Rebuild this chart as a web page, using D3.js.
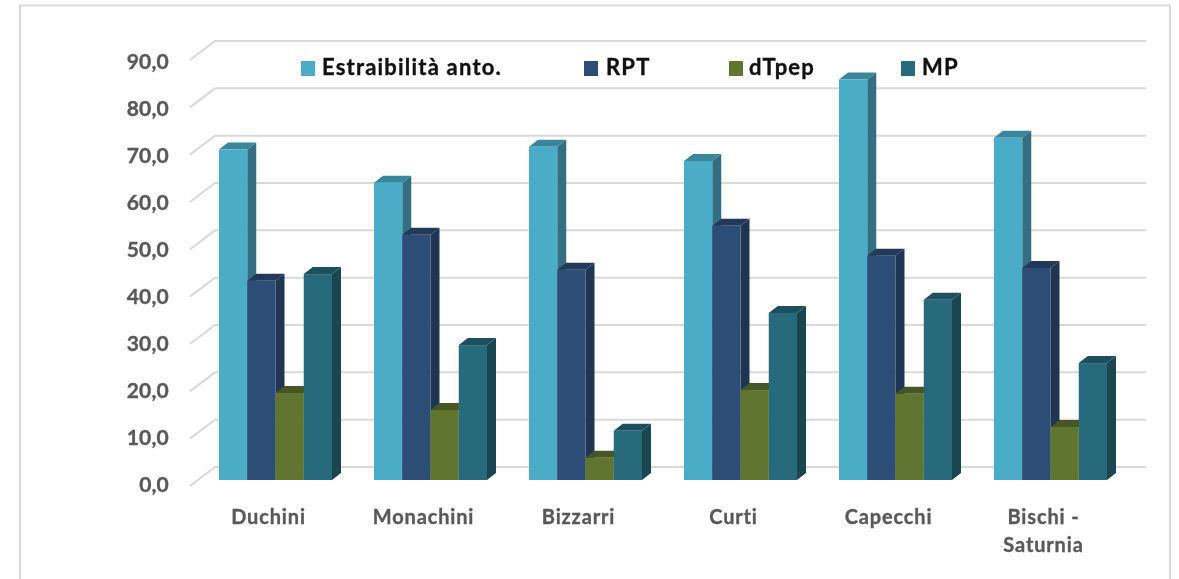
<!DOCTYPE html>
<html>
<head>
<meta charset="utf-8">
<script src="https://cdn.jsdelivr.net/npm/d3@7"></script>
<style>
    html, body { margin: 0; padding: 0; background: #fff; overflow: hidden; }
    svg { filter: blur(0.35px); }
    text { font-family: Lato, "Open Sans", sans-serif; font-weight: 700; stroke: currentColor; stroke-width: 0.35px; }
</style>
</head>
<body>
<div id="chart"></div>
<script>
const categories = [["Duchini"], ["Monachini"], ["Bizzarri"], ["Curti"], ["Capecchi"], ["Bischi -", "Saturnia"]];
const seriesNames = ["Estraibilità anto.", "RPT", "dTpep", "MP"];
const estraibilita = [69.8, 62.8, 70.4, 67.4, 84.6, 72.3];
const rpt = [42.1, 51.8, 44.4, 53.7, 47.4, 44.8];
const dtpep = [18.4, 14.8, 4.7, 19.0, 18.2, 11.2];
const mp = [43.5, 28.5, 10.4, 35.3, 38.1, 24.7];
const yTicks = [0, 10, 20, 30, 40, 50, 60, 70, 80, 90];

const seriesValues = [estraibilita, rpt, dtpep, mp];
const fronts = ["#4aacc6", "#2c4d75", "#5f7530", "#276a7c"];
const tops = ["#3a879c", "#22395a", "#465624", "#1d505e"];
const sides = ["#336f80", "#1f3553", "#3f4e20", "#1a4650"];

const svg = d3.select("#chart").append("svg")
    .attr("width", 1179)
    .attr("height", 579)
    .style("display", "block");

// frame, open at the bottom like the cropped original
svg.append("path")
    .attr("d", "M20,579V5.5H1170V579")
    .attr("fill", "none")
    .attr("stroke", "#d9d9d9")
    .attr("stroke-width", 2);

// y on the front edge of the floor
const y = d3.scaleLinear().domain([0, 90]).range([486, 60]);
const wall = {dx: 25, dy: -19};
const bar = {dx: 9, dy: -7, lift: 6};

const x0 = d3.scaleBand()
    .domain(d3.range(categories.length))
    .range([198, 1128])
    .paddingInner(42 / 155)
    .paddingOuter(21 / 155);

const x1 = d3.scaleBand()
    .domain(d3.range(seriesNames.length))
    .range([0, x0.bandwidth()]);

// gridlines
const grid = svg.append("g").attr("fill", "none").attr("stroke", "#d9d9d9").attr("stroke-width", 2);
grid.selectAll("path")
    .data(yTicks)
    .enter().append("path")
    .attr("d", d => "M190," + y(d) + "L" + (190 + wall.dx) + "," + (y(d) + wall.dy) + "H1146");

// tick labels
const yLabels = d3.scaleLinear().domain([0, 90]).range([485, 62]);
const yAxis = d3.axisLeft(yLabels)
    .tickValues(yTicks)
    .tickSize(0)
    .tickPadding(0)
    .tickFormat(d => d3.format(".1f")(d).replace(".", ","));

const axisG = svg.append("g")
    .attr("transform", "translate(169,0)")
    .call(yAxis);
axisG.select(".domain").remove();
axisG.selectAll("text")
    .attr("fill", "#595959")
    .style("color", "#595959")
    .style("font-size", "21px")
    .style("letter-spacing", "0.2px");

// bars, left to right so each one covers the side of the previous one
const groups = svg.selectAll(".group")
    .data(categories)
    .enter().append("g")
    .attr("class", "group")
    .attr("transform", (d, i) => "translate(" + x0(i) + ",0)");

groups.each(function (c, i) {
    const g = d3.select(this);
    seriesNames.forEach(function (name, s) {
        const left = x1(s);
        const right = left + x1.bandwidth();
        const base = y(0) - bar.lift;
        const top = y(seriesValues[s][i]) - bar.lift;

        g.append("path")
            .attr("d", "M" + right + "," + top + "l" + bar.dx + "," + bar.dy + "V" + (base + bar.dy) + "L" + right + "," + base + "Z")
            .attr("fill", sides[s]);
        g.append("path")
            .attr("d", "M" + left + "," + top + "l" + bar.dx + "," + bar.dy + "H" + (right + bar.dx) + "L" + right + "," + top + "Z")
            .attr("fill", tops[s]);
        g.append("rect")
            .attr("x", left)
            .attr("y", top)
            .attr("width", x1.bandwidth())
            .attr("height", base - top)
            .attr("fill", fronts[s]);
    });

    // category label, sits a little left of the bar group centre
    const label = g.append("text")
        .attr("x", x0.bandwidth() / 2 - 7)
        .attr("y", 524)
        .attr("text-anchor", "middle")
        .attr("fill", "#595959")
        .style("color", "#595959")
        .style("font-size", "20px")
        .style("letter-spacing", "0.85px");
    c.forEach(function (line, k) {
        label.append("tspan")
            .attr("x", x0.bandwidth() / 2 - 7)
            .attr("dy", k === 0 ? 0 : 28)
            .text(line);
    });
});

// legend
const legendSwatch = [301, 584, 729, 901];
const legendText = [322, 606, 749, 922];
seriesNames.forEach(function (name, s) {
    svg.append("rect")
        .attr("x", legendSwatch[s])
        .attr("y", 61)
        .attr("width", 14)
        .attr("height", 15)
        .attr("fill", fronts[s]);
    svg.append("text")
        .attr("x", legendText[s])
        .attr("y", 75)
        .attr("fill", "#111")
        .style("color", "#111")
        .style("font-size", "22px")
        .style("letter-spacing", "1.2px")
        .text(name);
});
</script>
</body>
</html>
